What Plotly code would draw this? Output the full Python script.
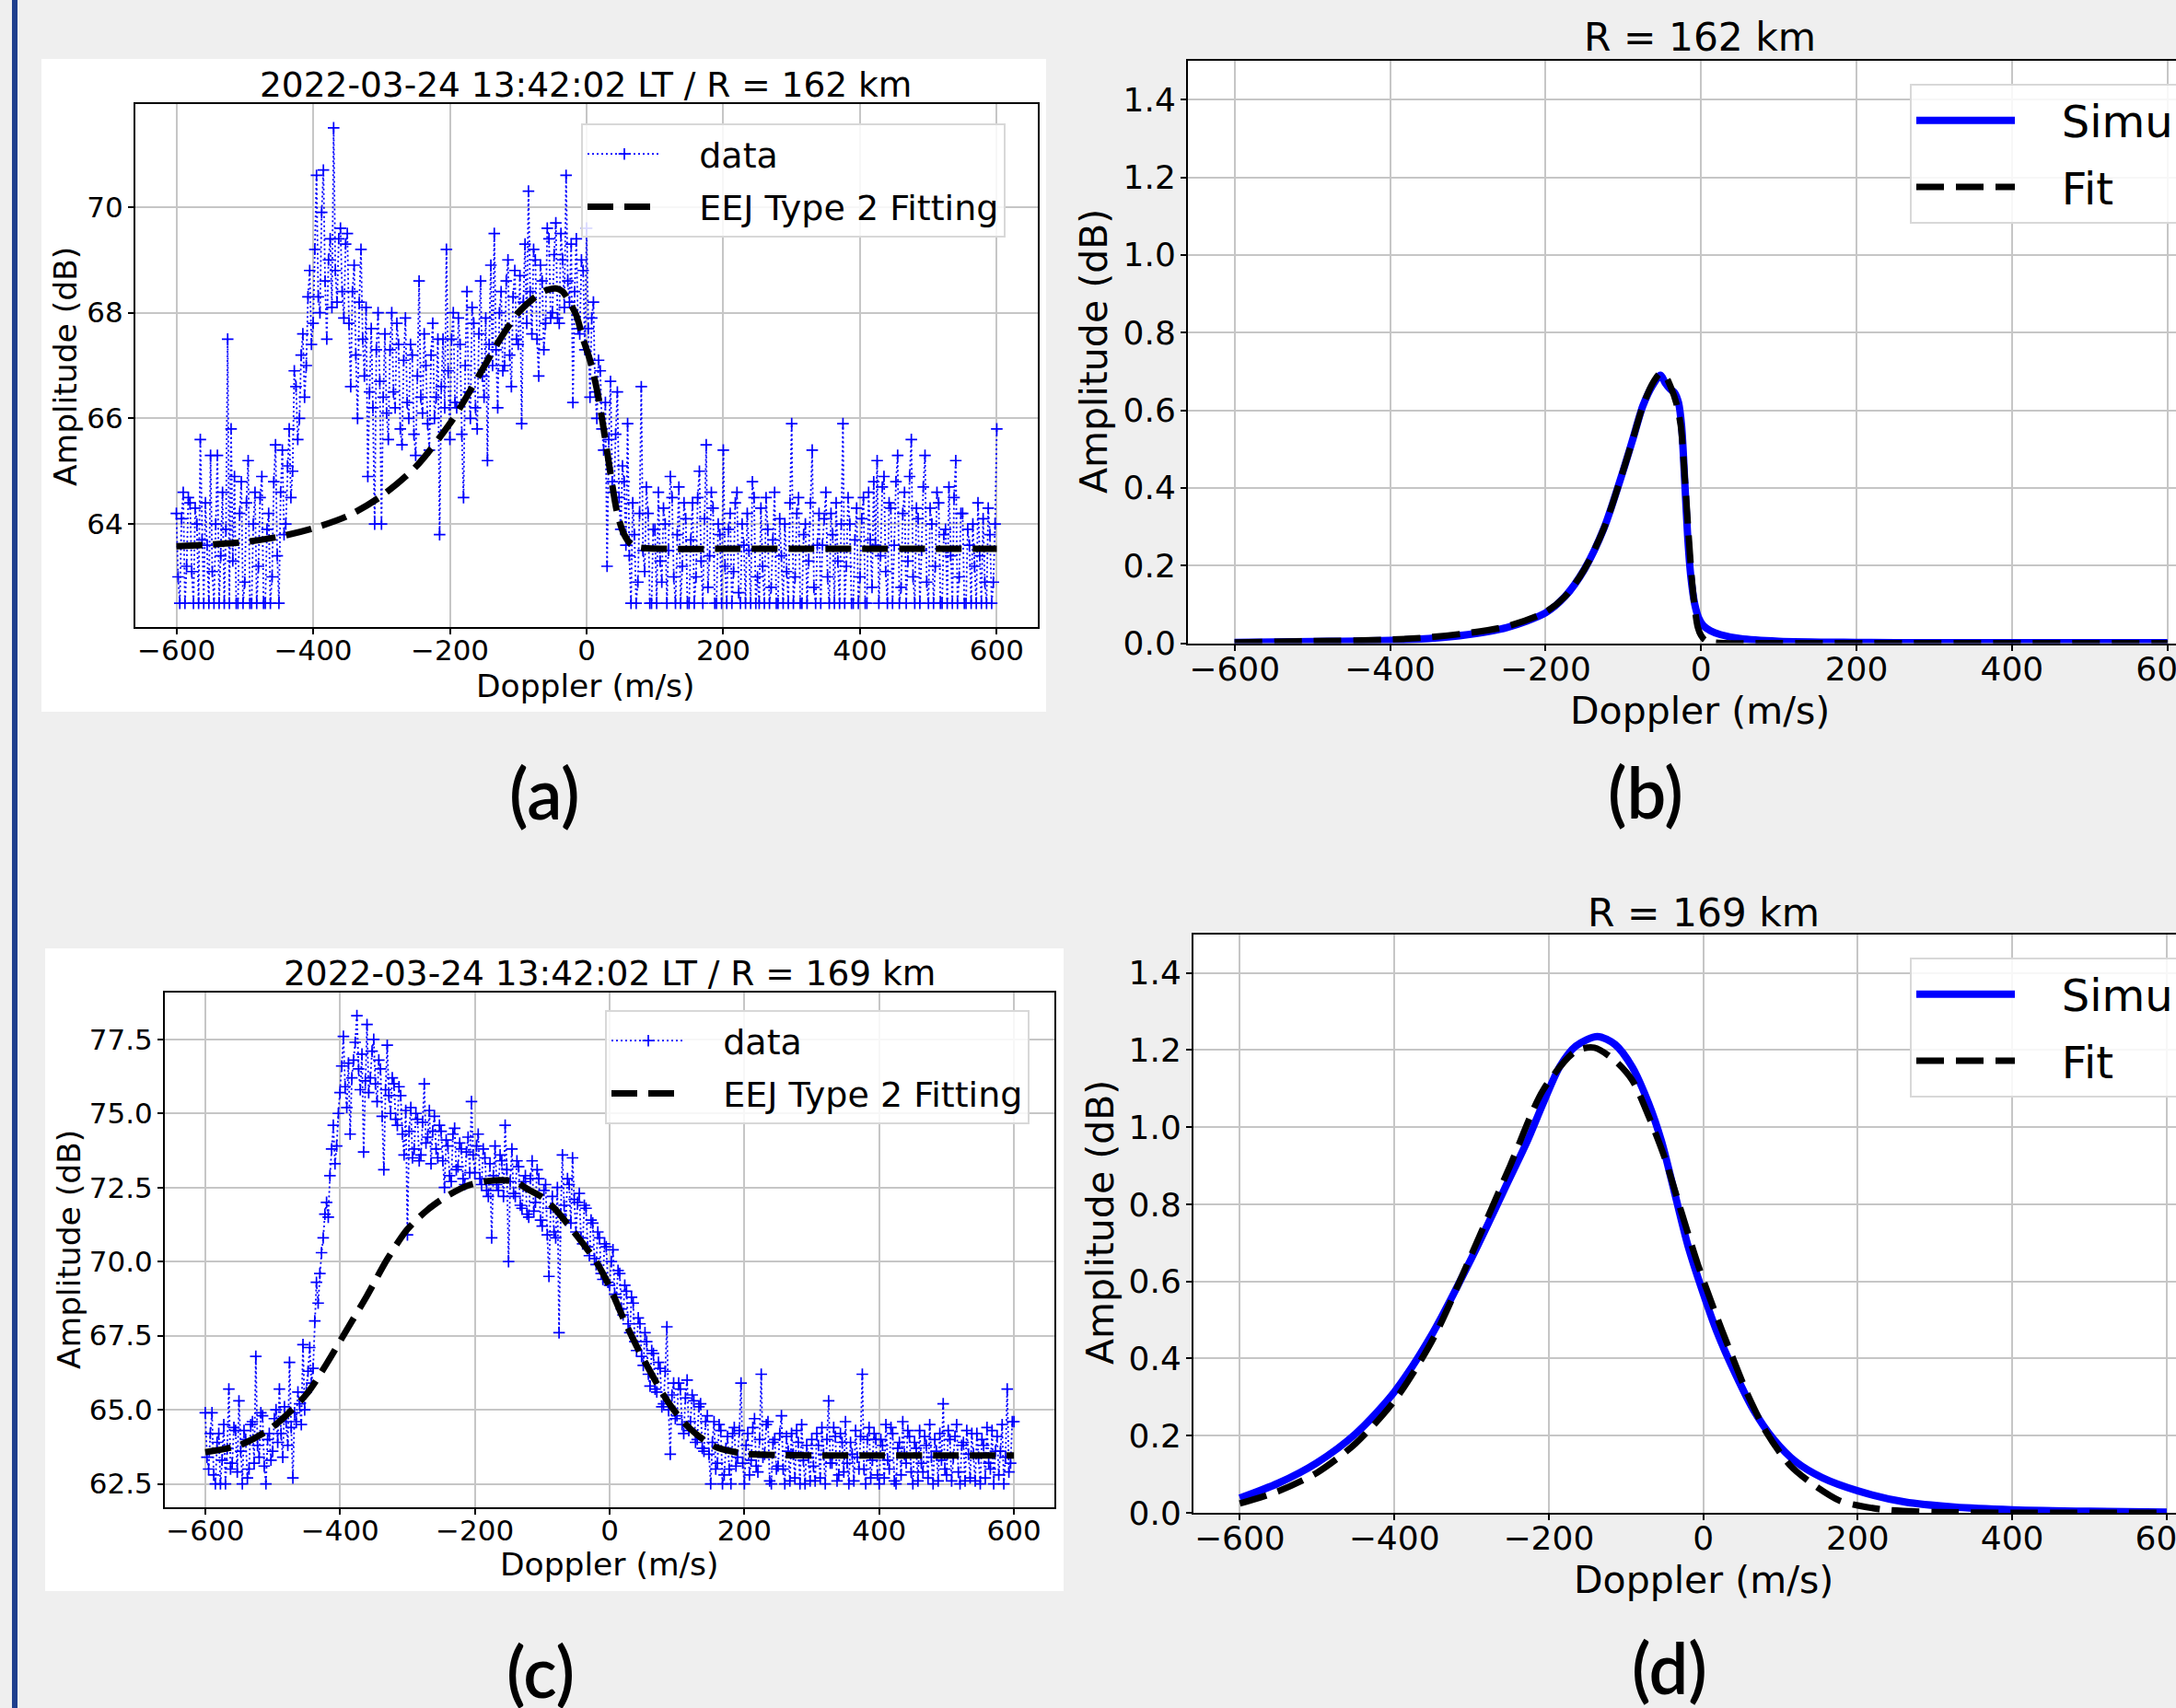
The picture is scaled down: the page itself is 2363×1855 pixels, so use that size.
import numpy as np
import plotly.graph_objects as go

W, H = 2363, 1855
def px(x): return x / W
def py(y): return 1 - y / H

# ---------------- data (Doppler step 2.5 m/s, -600 .. 600) ----------------
data_a = [
 64.2, 63.0, 62.5, 64.1, 64.6, 62.5, 63.2, 64.5, 64.4, 63.1, 62.5, 64.3, 64.0, 62.5, 65.6, 63.7, 62.5, 64.4, 63.6, 62.5,
 65.3, 63.1, 62.5, 64.0, 65.3, 62.5, 63.4, 64.6, 62.5, 63.9, 67.5, 62.5, 65.8, 63.3, 64.9, 62.5, 62.5, 64.2, 64.8, 62.5,
 62.9, 64.4, 65.2, 62.5, 62.5, 64.0, 64.6, 62.5, 63.2, 64.5, 64.9, 62.5, 62.5, 63.9, 64.2, 62.5, 63.0, 64.8, 65.5, 63.4,
 62.5, 64.6, 65.4, 63.8, 64.0, 65.1, 65.8, 64.5, 65.0, 66.9, 66.6, 65.6, 66.0, 67.2, 67.6, 66.4, 67.0, 68.3, 68.8, 67.4,
 67.8, 69.2, 70.6, 68.3, 68.0, 69.9, 70.7, 68.6, 67.5, 69.0, 69.4, 68.1, 71.5, 68.8, 68.2, 69.4, 69.6, 68.4, 67.9, 69.3,
 69.5, 67.8, 66.6, 68.4, 68.9, 67.2, 66.0, 68.2, 69.2, 67.5, 66.8, 68.1, 64.9, 66.5, 67.7, 66.2, 64.0, 67.3, 68.0, 66.7,
 64.0, 66.4, 67.6, 66.1, 65.6, 67.3, 68.0, 66.5, 66.2, 67.8, 67.4, 65.8, 65.5, 67.1, 67.9, 66.3, 66.0, 67.4, 67.2, 65.7,
 65.3, 66.8, 68.6, 66.4, 66.1, 67.6, 67.0, 65.9, 65.4, 67.2, 67.8, 66.0, 66.4, 67.5, 63.8, 66.6, 67.5, 66.2, 69.2, 66.9,
 65.6, 67.5, 68.0, 66.3, 66.2, 67.9, 67.4, 65.7, 64.5, 67.0, 68.4, 66.5, 66.0, 68.1, 67.8, 66.2, 65.8, 67.6, 68.6, 66.8,
 66.4, 67.9, 65.2, 67.4, 68.9, 67.0, 69.5, 67.3, 66.2, 68.0, 68.4, 66.9, 67.0, 68.6, 69.0, 67.2, 66.6, 68.3, 68.8, 67.5,
 67.4, 68.7, 65.9, 68.2, 69.3, 67.8, 70.3, 68.4, 67.6, 69.2, 69.0, 67.5, 66.8, 68.9, 68.6, 67.3, 67.8, 69.6, 69.4, 67.9,
 68.0, 69.1, 69.7, 67.9, 67.8, 69.5, 69.0, 68.1, 70.6, 68.6, 68.2, 69.3, 66.3, 68.4, 69.4, 67.7, 67.6, 69.0, 68.8, 67.3,
 69.6, 67.7, 66.4, 67.9, 68.2, 66.5, 66.0, 67.1, 66.9, 65.8, 65.4, 66.3, 63.2, 65.6, 66.7, 64.8, 64.6, 65.7, 66.5, 64.5,
 63.9, 65.1, 64.8, 63.6, 65.9, 63.4, 62.5, 64.4, 63.8, 62.5, 62.9, 64.2, 66.6, 63.5, 63.1, 64.7, 64.2, 62.5, 62.5, 63.9,
 63.9, 62.5, 64.6, 63.3, 62.9, 64.3, 64.0, 62.5, 63.5, 64.9, 64.5, 63.0, 62.5, 63.8, 64.7, 62.5, 63.2, 64.4, 64.1, 62.5,
 62.5, 63.7, 64.4, 62.5, 63.0, 64.5, 65.0, 63.3, 62.5, 64.1, 65.5, 62.8, 63.4, 64.6, 64.3, 62.5, 62.5, 64.0, 63.8, 62.5,
 65.4, 63.2, 62.5, 63.9, 64.2, 62.5, 63.1, 64.4, 64.6, 62.7, 62.5, 64.0, 63.6, 62.5, 64.2, 63.5, 62.5, 64.8, 64.5, 62.5,
 63.0, 62.5, 64.3, 63.2, 62.5, 64.5, 63.9, 62.5, 62.8, 63.7, 64.6, 62.5, 62.5, 64.1, 63.4, 62.5, 64.0, 63.1, 62.5, 64.4,
 65.9, 62.5, 63.0, 64.2, 64.5, 62.5, 62.5, 63.8, 64.0, 62.5, 63.3, 64.4, 65.4, 62.8, 62.5, 63.6, 64.2, 62.5, 63.6, 64.1,
 64.6, 63.0, 62.5, 64.2, 63.8, 62.5, 64.4, 63.3, 62.5, 64.0, 65.9, 62.5, 63.2, 64.5, 64.0, 62.5, 62.5, 63.7, 64.3, 62.5,
 63.0, 64.1, 64.5, 62.5, 62.5, 64.6, 63.7, 62.8, 64.8, 63.6, 65.2, 62.5, 63.4, 64.7, 64.9, 63.1, 62.5, 64.4, 64.3, 62.5,
 63.6, 64.8, 65.3, 62.5, 62.8, 64.2, 64.6, 62.5, 63.3, 64.9, 65.6, 63.0, 62.5, 64.3, 64.1, 62.5, 63.5, 64.7, 65.3, 62.9,
 62.5, 64.3, 64.0, 62.5, 63.2, 64.6, 64.4, 62.5, 62.5, 63.8, 63.9, 62.5, 64.7, 63.4, 62.5, 64.5, 65.2, 62.5, 63.0, 64.2,
 64.2, 62.5, 62.5, 63.9, 63.6, 62.5, 64.0, 63.2, 62.5, 64.4, 63.4, 62.5, 64.1, 62.9, 62.5, 64.3, 63.8, 62.5, 62.9, 64.0,
 65.8]

data_c = [
 64.9, 63.4, 63.0, 64.2, 64.9, 62.8, 62.5, 63.9, 64.2, 62.5, 63.3, 64.5, 62.5, 63.7, 65.7, 63.0, 63.2, 64.4, 64.3, 62.9,
 65.3, 63.6, 62.5, 64.3, 64.0, 62.7, 63.0, 64.5, 64.6, 63.2, 66.8, 63.8, 63.4, 64.9, 64.8, 63.1, 62.5, 64.0, 64.2, 63.3,
 63.6, 64.7, 65.0, 63.9, 65.7, 64.2, 63.4, 65.1, 64.6, 63.8, 66.6, 64.4, 62.7, 64.9, 64.6, 65.6, 65.2, 64.5, 67.2, 65.0,
 65.6, 66.3, 67.1, 65.9, 66.4, 68.0, 69.3, 68.6, 69.6, 70.3, 70.8, 71.6, 72.0, 71.5, 72.9, 73.8, 74.6, 73.3, 73.9, 75.0,
 75.7, 76.6, 77.6, 75.9, 75.2, 76.7, 74.3, 76.2, 76.8, 77.4, 78.3, 76.5, 75.8, 77.0, 73.7, 76.1, 78.0, 75.7, 76.2, 77.1,
 77.5, 76.0, 75.4, 76.8, 76.5, 74.9, 73.1, 75.8, 77.3, 75.6, 75.0, 76.2, 76.0, 74.8, 74.6, 75.9, 75.6, 74.3, 73.6, 75.1,
 70.9, 74.4, 75.2, 73.5, 73.8, 75.0, 74.8, 73.4, 73.6, 74.7, 76.0, 74.0, 74.2, 75.1, 73.3, 74.4, 74.9, 73.8, 73.5, 74.6,
 74.4, 73.4, 72.5, 74.1, 73.9, 72.9, 72.7, 74.3, 74.5, 73.1, 73.2, 74.0, 73.8, 72.8, 72.6, 73.7, 74.2, 73.0, 75.4, 73.6,
 73.0, 73.9, 74.3, 72.8, 72.6, 73.8, 73.5, 72.4, 72.2, 73.3, 70.8, 72.9, 73.9, 72.6, 72.4, 73.6, 73.4, 72.2, 74.6, 73.1,
 70.0, 72.7, 73.8, 72.3, 72.2, 73.4, 73.2, 71.9, 71.8, 72.7, 72.9, 71.6, 71.5, 72.8, 73.4, 71.7, 72.0, 73.1, 72.8, 71.4,
 71.2, 72.4, 72.6, 70.9, 69.5, 71.8, 72.2, 71.0, 70.8, 72.5, 67.6, 71.6, 73.6, 71.9, 71.4, 72.8, 72.6, 71.3, 73.5, 72.1,
 71.0, 72.0, 72.3, 70.8, 70.6, 71.9, 71.8, 70.5, 70.2, 71.4, 71.3, 70.1, 69.9, 71.0, 70.8, 69.6, 69.4, 70.6, 70.5, 69.3,
 69.2, 70.0, 70.4, 68.9, 68.8, 69.7, 69.6, 68.4, 68.2, 69.2, 69.0, 67.9, 67.6, 68.8, 68.6, 67.3, 67.0, 68.1, 67.9, 66.8,
 66.5, 67.6, 67.3, 66.2, 65.8, 67.0, 66.9, 65.7, 65.6, 66.6, 66.4, 65.1, 65.2, 66.3, 67.8, 65.0, 63.5, 65.5, 65.9, 64.7,
 64.8, 65.9, 65.7, 64.5, 64.2, 65.4, 66.0, 64.3, 64.6, 65.5, 65.3, 63.9, 64.0, 65.1, 65.2, 63.7, 63.6, 64.6, 64.8, 63.5,
 62.5, 63.9, 64.6, 63.0, 63.2, 64.5, 64.3, 62.5, 62.8, 63.7, 64.1, 63.0, 62.5, 64.2, 64.4, 63.1, 63.4, 64.3, 65.9, 63.2,
 62.5, 63.8, 64.2, 62.8, 63.3, 64.4, 64.7, 63.1, 62.9, 64.0, 66.2, 63.4, 63.5, 64.5, 64.6, 62.6, 62.5, 63.9, 64.0, 63.0,
 63.1, 64.2, 64.8, 63.0, 62.5, 64.1, 63.6, 62.6, 64.2, 63.5, 62.7, 64.3, 63.9, 62.5, 64.5, 63.3, 62.5, 63.8, 63.4, 62.6,
 64.0, 63.1, 62.6, 64.2, 63.8, 62.7, 64.4, 63.5, 62.5, 64.0, 65.3, 63.2, 63.2, 64.4, 64.1, 62.6, 62.8, 64.2, 63.9, 62.9,
 64.6, 63.2, 62.5, 63.9, 63.5, 62.6, 64.3, 63.4, 63.0, 64.1, 66.2, 63.0, 62.5, 64.0, 64.4, 62.7, 63.3, 64.2, 64.0, 62.8,
 62.5, 64.0, 63.8, 62.7, 64.5, 63.3, 63.0, 64.4, 64.2, 62.6, 62.5, 63.7, 63.9, 62.8, 64.6, 63.5, 63.2, 64.3, 64.1, 62.9,
 62.5, 63.9, 63.7, 62.6, 64.3, 63.2, 62.9, 64.1, 63.8, 62.7, 64.5, 63.4, 62.5, 64.0, 63.6, 62.6, 64.2, 63.3, 65.2, 63.0,
 62.8, 64.3, 64.0, 62.6, 63.4, 64.1, 64.5, 62.9, 62.5, 63.8, 63.9, 62.6, 64.3, 63.5, 62.7, 64.2, 63.5, 62.6, 64.2, 63.4,
 62.5, 64.0, 63.8, 62.7, 64.4, 63.2, 63.0, 64.3, 62.5, 63.6, 64.1, 62.8, 63.6, 64.5, 62.5, 63.4, 65.7, 62.9, 63.2, 64.6,
 64.6]

doppler_a = np.linspace(-600, 600, len(data_a))
doppler_c = np.linspace(-600, 600, len(data_c))

fit_a_x = [-600, -550, -500, -450, -400, -350, -300, -250, -200, -175, -150, -125, -100,
           -75, -60, -45, -35, -25, -15, -5, 5, 15, 25, 35, 45, 55, 65, 75, 90, 120,
           200, 300, 400, 500, 600]
fit_a_y = [63.58, 63.61, 63.66, 63.76, 63.92, 64.15, 64.53, 65.08, 65.90, 66.42, 66.98,
           67.53, 68.00, 68.30, 68.42, 68.46, 68.40, 68.20, 67.95, 67.50, 67.10, 66.55,
           65.80, 64.95, 64.20, 63.80, 63.62, 63.56, 63.54, 63.53, 63.53, 63.53, 63.53,
           63.53, 63.53]

fit_c_x = [-600, -550, -500, -450, -420, -390, -360, -330, -300, -270, -240, -210, -180,
           -160, -140, -120, -100, -80, -60, -40, -20, 0, 20, 40, 60, 80, 100, 120, 140,
           160, 180, 200, 250, 300, 400, 500, 600]
fit_c_y = [63.57, 63.80, 64.42, 65.52, 66.55, 67.70, 68.85, 70.08, 71.09, 71.75, 72.23,
           72.57, 72.72, 72.75, 72.69, 72.42, 72.17, 71.75, 71.20, 70.62, 70.00, 69.15,
           68.10, 67.15, 66.30, 65.50, 64.85, 64.35, 63.98, 63.72, 63.60, 63.52, 63.47,
           63.46, 63.46, 63.46, 63.46]

sim_b_x = [-600, -500, -400, -350, -300, -250, -200, -175, -150, -125, -100, -87, -75,
           -62, -52, -46, -40, -34, -29, -25, -21, -17, -13, -8, -3, 3, 12, 25, 50, 100,
           200, 300, 400, 500, 600]
sim_b_y = [0.002, 0.004, 0.007, 0.012, 0.022, 0.040, 0.078, 0.120, 0.190, 0.295, 0.445,
           0.530, 0.610, 0.665, 0.690, 0.670, 0.655, 0.645, 0.620, 0.560, 0.420, 0.270,
           0.170, 0.100, 0.065, 0.045, 0.032, 0.022, 0.012, 0.005, 0.002, 0.001, 0.001,
           0.001, 0.001]

fit_b_x = [-600, -500, -400, -350, -300, -250, -200, -175, -150, -125, -100, -87, -75,
           -62, -52, -45, -38, -32, -26, -21, -16, -12, -8, -4, 0, 5, 15, 30, 100, 600]
fit_b_y = [0.002, 0.005, 0.009, 0.015, 0.026, 0.043, 0.080, 0.120, 0.190, 0.295, 0.445,
           0.530, 0.610, 0.670, 0.695, 0.685, 0.655, 0.620, 0.560, 0.430, 0.280, 0.170,
           0.090, 0.040, 0.020, 0.008, 0.002, 0.0, 0.0, 0.0]

sim_d_x = [-600, -550, -500, -450, -400, -350, -300, -250, -228, -207, -186, -165, -137,
           -114, -92, -71, -54, -37, -20, 0, 18, 40, 65, 91, 120, 154, 200, 261, 325, 400,
           500, 600]
sim_d_y = [0.038, 0.077, 0.130, 0.205, 0.313, 0.467, 0.660, 0.870, 0.963, 1.063, 1.156,
           1.210, 1.235, 1.214, 1.156, 1.063, 0.963, 0.829, 0.694, 0.569, 0.468, 0.367,
           0.267, 0.191, 0.132, 0.091, 0.057, 0.028, 0.015, 0.008, 0.004, 0.002]

fit_d_x = [-600, -550, -500, -450, -400, -350, -300, -250, -207, -165, -141, -114, -92,
           -71, -50, -28, -7, 14, 35, 57, 82, 112, 142, 176, 200, 240, 300, 400, 600]
fit_d_y = [0.024, 0.056, 0.104, 0.180, 0.290, 0.450, 0.670, 0.900, 1.097, 1.197, 1.206,
           1.172, 1.122, 1.030, 0.921, 0.778, 0.644, 0.527, 0.418, 0.309, 0.208, 0.124,
           0.074, 0.032, 0.019, 0.007, 0.002, 0.0, 0.0]

x_ticks = [-600, -400, -200, 0, 200, 400, 600]
y_ticks_a = [64, 66, 68, 70]
y_ticks_c = [62.5, 65.0, 67.5, 70.0, 72.5, 75.0, 77.5]
y_ticks_bd = [0.0, 0.2, 0.4, 0.6, 0.8, 1.0, 1.2, 1.4]

title_a = "2022-03-24 13:42:02 LT / R = 162 km"
title_c = "2022-03-24 13:42:02 LT / R = 169 km"
title_b = "R = 162 km"
title_d = "R = 169 km"

# ---------------- figure ----------------
FONT = "DejaVu Sans"
GAP = "\u00a0\u00a0\u00a0"
fig = go.Figure()

def data_trace(x, y, ax, leg, grp):
    return go.Scatter(x=x, y=y, mode="lines+markers", name=GAP + "data",
                      line=dict(color="#0000ff", width=1.8, dash="2px,3px"),
                      marker=dict(symbol="cross-thin", size=9, color="#0000ff",
                                  line=dict(color="#0000ff", width=1.7)),
                      xaxis="x" + ax, yaxis="y" + ax, legend=leg, legendgroup=grp)

def fit_trace(x, y, ax, leg, name, width, dash, grp):
    return go.Scatter(x=x, y=y, mode="lines", name=GAP + name,
                      line=dict(color="black", width=width, dash=dash, shape="spline",
                                smoothing=0.8),
                      xaxis="x" + ax, yaxis="y" + ax, legend=leg, legendgroup=grp)

def sim_trace(x, y, ax, leg, grp):
    return go.Scatter(x=x, y=y, mode="lines", name=GAP + "Simulation",
                      line=dict(color="#0000ff", width=8, shape="spline", smoothing=0.8),
                      xaxis="x" + ax, yaxis="y" + ax, legend=leg, legendgroup=grp)

fig.add_trace(data_trace(doppler_a, data_a, "", "legend", "a1"))
fig.add_trace(fit_trace(fit_a_x, fit_a_y, "", "legend", "EEJ Type 2 Fitting", 7, "28px,12px", "a2"))
fig.add_trace(sim_trace(sim_b_x, sim_b_y, "2", "legend2", "b1"))
fig.add_trace(fit_trace(fit_b_x, fit_b_y, "2", "legend2", "Fit", 7, "30px,13px", "b2"))
fig.add_trace(data_trace(doppler_c, data_c, "3", "legend3", "c1"))
fig.add_trace(fit_trace(fit_c_x, fit_c_y, "3", "legend3", "EEJ Type 2 Fitting", 7, "28px,12px", "c2"))
fig.add_trace(sim_trace(sim_d_x, sim_d_y, "4", "legend4", "d1"))
fig.add_trace(fit_trace(fit_d_x, fit_d_y, "4", "legend4", "Fit", 7, "30px,13px", "d2"))

GRID = "#c6c6c6"

def xaxis(dom, rng, fs, anchor, standoff):
    return dict(domain=dom, range=rng, tickvals=x_ticks, showgrid=True, gridcolor=GRID,
                gridwidth=2, showline=True, linecolor="black", linewidth=2, mirror=True,
                ticks="outside", ticklen=6, tickwidth=2, tickcolor="black",
                tickfont=dict(family=FONT, size=fs, color="black"), zeroline=False,
                anchor=anchor, ticklabelstandoff=standoff, ticklabeloverflow="allow")

def yaxis(dom, rng, fs, anchor, vals, fmt, standoff, mirror=True):
    return dict(domain=dom, range=rng, tickvals=vals, tickformat=fmt, showgrid=True,
                gridcolor=GRID, gridwidth=2, showline=True, linecolor="black", linewidth=2,
                mirror=mirror, ticks="outside", ticklen=6, tickwidth=2, tickcolor="black",
                tickfont=dict(family=FONT, size=fs, color="black"), zeroline=False,
                anchor=anchor, ticklabelstandoff=standoff)

fs_small, fs_big = 31, 36

layout = dict(
    width=W, height=H, margin=dict(l=0, r=0, t=0, b=0, autoexpand=False),
    paper_bgcolor="#efefef", plot_bgcolor="white", showlegend=True,
    xaxis=xaxis([px(147), px(1127)], [-660, 660], fs_small, "y", -9),
    yaxis=yaxis([py(681), py(113)], [62.05, 71.95], fs_small, "x", y_ticks_a, "d", -1),
    xaxis2=xaxis([px(1290), 1.0], [-660, 611], fs_big, "y2", -11),
    yaxis2=yaxis([py(698.5), py(66)], [0, 1.5], fs_big, "x2", y_ticks_bd, ".1f", -2, mirror=False),
    xaxis3=xaxis([px(179), px(1145)], [-660, 660], fs_small, "y3", -9),
    yaxis3=yaxis([py(1637), py(1077.6)], [61.71, 79.09], fs_small, "x3", y_ticks_c, ".1f", -1),
    xaxis4=xaxis([px(1296), 1.0], [-660, 612], fs_big, "y4", -11),
    yaxis4=yaxis([py(1643), py(1014.7)], [0, 1.5], fs_big, "x4", y_ticks_bd, ".1f", -2, mirror=False),
)

def legend(x, y, fs, iw, gap):
    return dict(x=px(x), y=py(y), xanchor="left", yanchor="top",
                bgcolor="rgba(255,255,255,0.85)", bordercolor="#d8d8d8", borderwidth=2,
                font=dict(family=FONT, size=fs, color="black"), itemwidth=iw,
                tracegroupgap=gap)

layout["legend"] = legend(631, 134, 38, 80, 5)
layout["legend2"] = legend(2074, 91, 48, 107, 7)
layout["legend3"] = legend(657, 1097, 38, 80, 5)
layout["legend4"] = legend(2074, 1040, 48, 107, 7)

fig.update_layout(**layout)

# background boxes and left bar
fig.add_shape(type="rect", xref="paper", yref="paper", x0=px(45), x1=px(1136),
              y0=py(773), y1=py(64), fillcolor="white", line_width=0, layer="below")
fig.add_shape(type="rect", xref="paper", yref="paper", x0=px(49), x1=px(1155),
              y0=py(1728), y1=py(1030), fillcolor="white", line_width=0, layer="below")
fig.add_shape(type="rect", xref="paper", yref="paper", x0=px(13), x1=px(19),
              y0=0, y1=1, fillcolor="#1f3f8d", line_width=0, layer="above")

def text(s, x, y, fs, angle=0, family=FONT, weight="normal"):
    fig.add_annotation(text=s, x=px(x), y=py(y), xref="paper", yref="paper",
                       xanchor="center", yanchor="middle", showarrow=False,
                       textangle=angle,
                       font=dict(family=family, size=fs, color="black", weight=weight))

text(title_a, 636, 92, 37.5)
text(title_c, 662, 1057, 37.5)
text(title_b, 1846, 41, 42.4)
text(title_d, 1850, 991, 42.4)
text("Doppler (m/s)", 636, 745, 34.5)
text("Doppler (m/s)", 662, 1699, 34.5)
text("Doppler (m/s)", 1846, 772, 41)
text("Doppler (m/s)", 1850, 1716, 41)
text("Amplitude (dB)", 71, 398, 34.5, -90)
text("Amplitude (dB)", 75, 1357, 34.5, -90)
text("Amplitude (dB)", 1188, 382, 41, -90)
text("Amplitude (dB)", 1195, 1328, 41, -90)
text("(a)", 591, 860, 76, family="Lato", weight=600)
text("(b)", 1787, 859, 76, family="Lato", weight=600)
text("(c)", 587, 1814, 76, family="Lato", weight=600)
text("(d)", 1813, 1810, 76, family="Lato", weight=600)

fig.write_html("out.html", config={"displayModeBar": False},
               post_script="document.body.style.margin='0';document.body.style.overflow='hidden';")
